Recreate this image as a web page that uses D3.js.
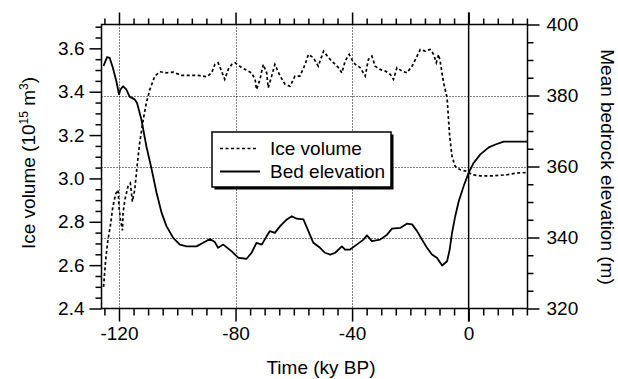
<!DOCTYPE html>
<html>
<head>
<meta charset="utf-8">
<script src="https://cdn.jsdelivr.net/npm/d3@7"></script>
<style>
  html, body { margin: 0; padding: 0; background: #fff; }
  svg { display: block; font-family: Arial, "Liberation Sans", Helvetica, sans-serif; }
</style>
</head>
<body>
<svg id="chart" width="618" height="379"></svg>
<script>
// ---- Data ----
const iceTime = [-125.3,-124.6,-123.8,-123.0,-122.1,-121.1,-120.3,-120.0,-119.5,-118.8,-118.6,-118.0,-116.9,-116.1,-115.4,-114.6,-113.8,-112.9,-111.7,-110.6,-109.4,-107.7,-106.0,-103.7,-101.4,-98.5,-95.7,-92.8,-89.9,-88.2,-87.1,-86.0,-84.8,-83.7,-82.5,-81.3,-80.2,-77.9,-75.6,-74.5,-73.3,-72.8,-71.6,-70.5,-69.3,-68.8,-67.6,-66.5,-64.7,-63.0,-61.3,-59.6,-57.9,-56.1,-55.0,-53.3,-51.6,-49.8,-48.1,-46.4,-44.7,-43.5,-42.4,-41.0,-40.1,-38.9,-37.2,-35.5,-34.4,-33.2,-32.1,-30.4,-28.6,-26.9,-25.8,-24.6,-22.9,-21.2,-19.4,-17.7,-16.6,-14.9,-13.2,-12.0,-11.1,-10.3,-9.7,-8.6,-7.4,-6.9,-6.5,-5.7,-4.6,-2.9,-0.5,1.2,4.0,8.6,13.2,16.7,20.1];
const iceVolume = [2.50,2.62,2.716,2.778,2.87,2.93,2.947,2.87,2.81,2.76,2.84,2.90,2.963,2.978,2.893,2.947,3.055,3.164,3.27,3.349,3.41,3.472,3.492,3.487,3.49,3.475,3.475,3.475,3.469,3.487,3.526,3.534,3.495,3.457,3.503,3.526,3.534,3.511,3.495,3.487,3.457,3.41,3.457,3.526,3.487,3.418,3.472,3.526,3.472,3.434,3.425,3.472,3.472,3.526,3.572,3.557,3.518,3.587,3.557,3.534,3.511,3.487,3.541,3.572,3.549,3.526,3.511,3.472,3.549,3.564,3.518,3.503,3.495,3.48,3.457,3.511,3.495,3.487,3.518,3.564,3.595,3.587,3.595,3.572,3.534,3.572,3.534,3.441,3.372,3.271,3.194,3.102,3.055,3.04,3.032,3.017,3.012,3.012,3.017,3.025,3.027];

const bedTime = [-125.3,-124.1,-123.2,-122.1,-120.9,-120.0,-119.5,-118.6,-117.5,-116.3,-114.6,-113.8,-112.3,-110.6,-108.9,-107.1,-105.4,-103.7,-101.4,-99.1,-96.8,-93.4,-91.1,-88.8,-87.1,-86.0,-84.2,-81.3,-79.1,-76.2,-74.5,-72.8,-71.0,-69.3,-68.2,-66.5,-64.7,-62.4,-60.7,-59.0,-56.7,-55.0,-53.3,-51.0,-49.3,-47.5,-45.8,-43.5,-42.4,-40.7,-38.4,-36.1,-34.9,-33.2,-30.4,-28.0,-26.3,-23.5,-21.2,-19.4,-17.7,-16.0,-14.3,-12.6,-10.9,-9.1,-7.4,-6.5,-5.7,-4.6,-3.4,-1.7,0,1.7,4.0,6.9,9.2,12.0,20.0];
const bedElevation = [388.3,390.8,390.6,387.8,384.0,380.3,381.7,382.6,381.7,379.6,378.9,377.9,373.2,365.7,359.6,352.6,347.0,343.2,339.9,338.0,337.5,337.5,338.5,339.6,338.7,337.1,338.0,336.1,334.3,334.0,335.7,338.5,338.0,340.4,341.8,341.3,343.2,345.1,346.0,345.3,345.1,341.8,338.5,337.1,335.7,335.2,335.7,337.5,336.6,336.6,338.0,339.4,340.6,339.0,339.4,340.8,342.5,342.7,343.9,343.7,341.8,339.4,337.1,335.2,334.3,332.1,333.3,336.6,341.3,346.0,350.2,354.5,358.2,361.0,363.4,365.4,366.2,367.0,367.0];

const xMajorTicks = [-120, -80, -40, 0];
const xTickLabels = ["-120", "-80", "-40", "0"];
const yLeftTicks = [2.4, 2.6, 2.8, 3.0, 3.2, 3.4, 3.6];
const yLeftTickLabels = ["2.4", "2.6", "2.8", "3.0", "3.2", "3.4", "3.6"];
const yRightTicks = [320, 340, 360, 380, 400];
const yRightTickLabels = ["320", "340", "360", "380", "400"];
const xGridDotted = [-120, -80, -40];
const xGridSolid = [0];
const yRightGrid = [340, 360, 380];
const legendLabels = ["Ice volume", "Bed elevation"];

// ---- Layout ----
const L = 101.5, R = 527.5, T = 24.5, B = 308.5;
const svg = d3.select("#chart");
const FONT = 19;

const x = d3.scaleLinear().domain([-126, 20.2]).range([L, R]);
const yL = d3.scaleLinear().domain([2.4, 3.71]).range([B, T]);
const yR = d3.scaleLinear().domain([320, 400]).range([B, T]);

const ink = "#000";

// grid
const grid = svg.append("g");
grid.selectAll("line.vd").data(xGridDotted).join("line")
  .attr("x1", d => Math.round(x(d)) + 0.5).attr("x2", d => Math.round(x(d)) + 0.5)
  .attr("y1", T).attr("y2", B)
  .attr("stroke", ink).attr("stroke-width", 1).attr("stroke-dasharray", "1,2");
grid.selectAll("line.hd").data(yRightGrid).join("line")
  .attr("x1", L).attr("x2", R)
  .attr("y1", d => Math.round(yR(d)) + 0.5).attr("y2", d => Math.round(yR(d)) + 0.5)
  .attr("stroke", ink).attr("stroke-width", 1).attr("stroke-dasharray", "1,2");

// axes with minor ticks
function minorAxis(axisGen, scale, values, size) {
  return axisGen(scale).tickValues(values).tickSize(size).tickFormat("");
}
const xMinor = d3.range(-125, 21, 5).filter(v => !xMajorTicks.includes(v));
const yLMinor = d3.range(2.4, 3.70, 0.05).map(v => +v.toFixed(2)).filter(v => !yLeftTicks.some(t => Math.abs(t - v) < 1e-6));
const yRMinor = d3.range(320, 401, 5).filter(v => !yRightTicks.includes(v));

function styleAxis(g) {
  g.select(".domain").remove();
  g.selectAll(".tick line").attr("stroke", ink).attr("stroke-width", 1.5);
  g.selectAll(".tick text").attr("fill", ink).style("font-size", FONT + "px")
    .style("font-family", "Arial, 'Liberation Sans', sans-serif");
}

// bottom
svg.append("g").attr("transform", `translate(0,${B})`)
  .call(minorAxis(d3.axisBottom, x, xMinor, 7)).call(styleAxis);
svg.append("g").attr("transform", `translate(0,${B})`)
  .call(d3.axisBottom(x).tickValues(xMajorTicks).tickSize(13).tickPadding(5)
    .tickFormat((d, i) => xTickLabels[i]))
  .call(styleAxis);
// top
svg.append("g").attr("transform", `translate(0,${T})`)
  .call(minorAxis(d3.axisTop, x, xMinor, 6)).call(styleAxis);
svg.append("g").attr("transform", `translate(0,${T})`)
  .call(d3.axisTop(x).tickValues(xMajorTicks).tickSize(12).tickFormat(""))
  .call(styleAxis);
// left
svg.append("g").attr("transform", `translate(${L},0)`)
  .call(minorAxis(d3.axisLeft, yL, yLMinor, 6)).call(styleAxis);
svg.append("g").attr("transform", `translate(${L},0)`)
  .call(d3.axisLeft(yL).tickValues(yLeftTicks).tickSize(12).tickPadding(5)
    .tickFormat((d, i) => yLeftTickLabels[i]))
  .call(styleAxis);
// right
svg.append("g").attr("transform", `translate(${R},0)`)
  .call(minorAxis(d3.axisRight, yR, yRMinor, 6)).call(styleAxis);
svg.append("g").attr("transform", `translate(${R},0)`)
  .call(d3.axisRight(yR).tickValues(yRightTicks).tickSize(12).tickPadding(7)
    .tickFormat((d, i) => yRightTickLabels[i]))
  .call(styleAxis);

// solid vertical line at 0 (extends through ticks)
svg.selectAll("line.vs").data(xGridSolid).join("line")
  .attr("x1", d => x(d)).attr("x2", d => x(d))
  .attr("y1", T - 12).attr("y2", B + 13)
  .attr("stroke", ink).attr("stroke-width", 1.5);

// frame
svg.append("rect").attr("x", L).attr("y", T).attr("width", R - L).attr("height", B - T)
  .attr("fill", "none").attr("stroke", ink).attr("stroke-width", 1.5);

// series
const iceData = iceTime.map((t, i) => [t, iceVolume[i]]);
const bedData = bedTime.map((t, i) => [t, bedElevation[i]]);

svg.append("path").datum(iceData)
  .attr("d", d3.line().x(d => x(d[0])).y(d => yL(d[1])))
  .attr("fill", "none").attr("stroke", ink).attr("stroke-width", 1.7)
  .attr("stroke-dasharray", "3,2.5");
svg.append("path").datum(bedData)
  .attr("d", d3.line().x(d => x(d[0])).y(d => yR(d[1])))
  .attr("fill", "none").attr("stroke", ink).attr("stroke-width", 1.8)
  .attr("stroke-linejoin", "round");

// legend
const lg = svg.append("g");
const lx = 212, ly = 132, lw = 179, lh = 55;
lg.append("rect").attr("x", lx + 2.5).attr("y", ly + 2.5).attr("width", lw).attr("height", lh).attr("fill", ink);
lg.append("rect").attr("x", lx).attr("y", ly).attr("width", lw).attr("height", lh)
  .attr("fill", "#fff").attr("stroke", ink).attr("stroke-width", 1.5);
const legendRows = lg.selectAll("g.row").data(legendLabels).join("g")
  .attr("transform", (d, i) => `translate(0,${i === 0 ? 148.5 : 171.5})`);
legendRows.append("line")
  .attr("x1", 220).attr("x2", (d, i) => i === 0 ? 257 : 260).attr("y1", 0).attr("y2", 0)
  .attr("stroke", ink).attr("stroke-width", (d, i) => i === 0 ? 1.7 : 1.8)
  .attr("stroke-dasharray", (d, i) => i === 0 ? "3,2.5" : null);
legendRows.append("text").attr("x", 270).attr("y", 6.5)
  .style("font-size", FONT + "px").attr("fill", ink).text(d => d);

// axis titles
svg.append("text").attr("x", 321).attr("y", 373.5).attr("text-anchor", "middle")
  .style("font-size", FONT + "px").attr("fill", ink).text("Time (ky BP)");

const lt = svg.append("text").attr("transform", "translate(35,163) rotate(-90)")
  .attr("text-anchor", "middle").style("font-size", FONT + "px").attr("fill", ink);
lt.append("tspan").text("Ice volume (10");
lt.append("tspan").attr("dy", -7).style("font-size", "12px").text("15");
lt.append("tspan").attr("dy", 7).text(" m");
lt.append("tspan").attr("dy", -7).style("font-size", "12px").text("3");
lt.append("tspan").attr("dy", 7).text(")");

svg.append("text").attr("transform", "translate(601,167) rotate(90)")
  .attr("text-anchor", "middle").style("font-size", FONT + "px").attr("fill", ink)
  .text("Mean bedrock elevation (m)");
</script>
</body>
</html>
